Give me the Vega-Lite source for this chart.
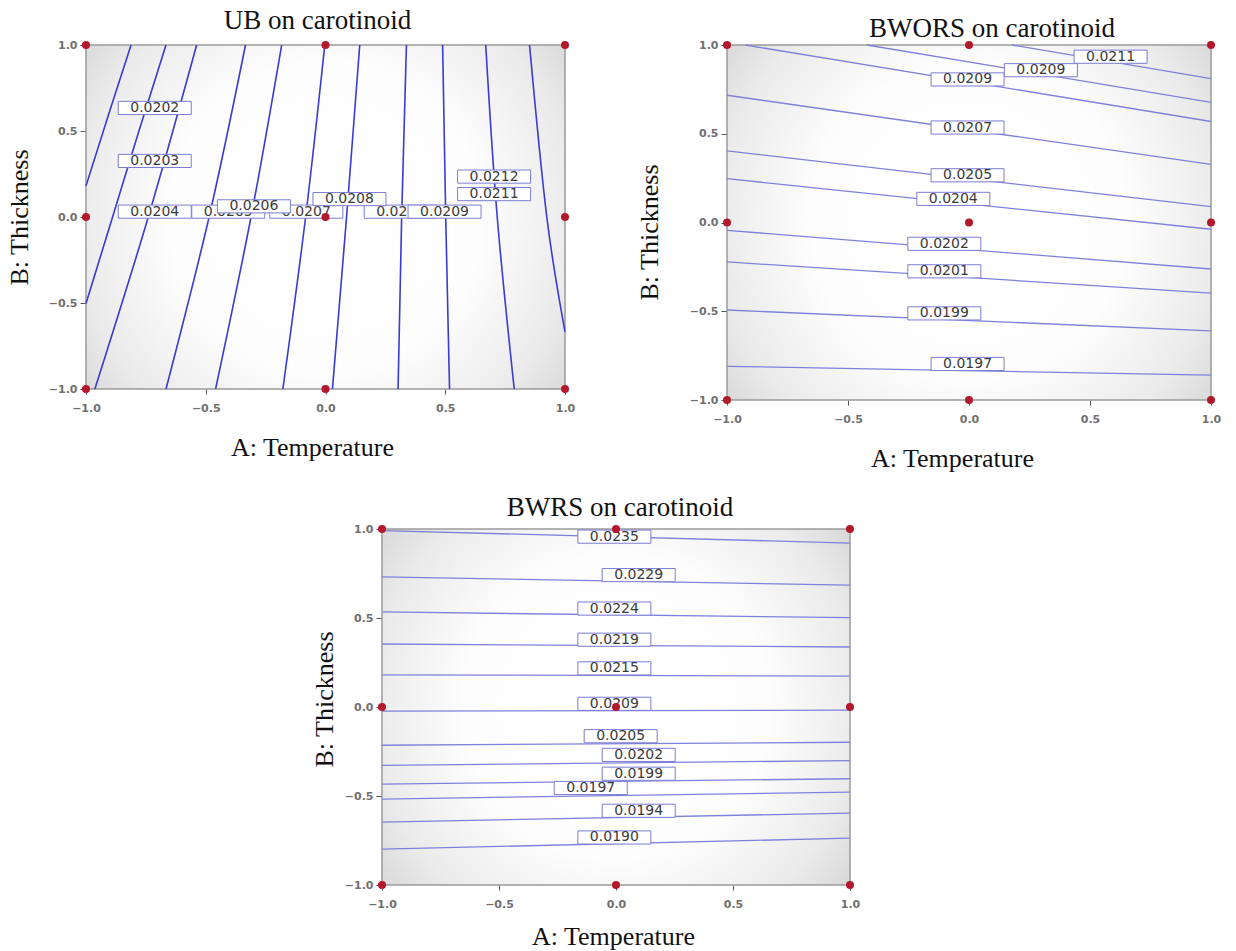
{
  "$schema": "https://vega.github.io/schema/vega-lite/v6.json",
  "background": "#ffffff",
  "padding": {"left": 6, "top": 7, "right": 5, "bottom": 2},
  "config": {
    "view": {"stroke": null},
    "title": {"font": "Liberation Serif", "fontSize": 27, "fontWeight": "normal", "color": "#111111", "baseline": "alphabetic", "frame": "group", "anchor": "middle"},
    "axis": {"grid": false, "domain": false, "labelFont": "DejaVu Sans", "labelFontSize": 11, "labelFontWeight": "bold", "labelColor": "#707070", "labelFlush": false, "labelOverlap": false, "tickColor": "#555555", "tickWidth": 1, "titleFont": "Liberation Serif", "titleFontSize": 26, "titleFontWeight": "normal", "titleColor": "#111111", "titleBaseline": "alphabetic"},
    "axisX": {"tickSize": 5, "labelPadding": 8},
    "axisY": {"tickSize": 6, "labelPadding": 3}
  },
  "datasets": {
    "design": [
      {"x": -1, "y": 1}, {"x": 0, "y": 1}, {"x": 1, "y": 1},
      {"x": -1, "y": 0}, {"x": 0, "y": 0}, {"x": 1, "y": 0},
      {"x": -1, "y": -1}, {"x": 0, "y": -1}, {"x": 1, "y": -1}
    ],
    "ub_lines": [
      {"c": 1, "k": 0, "x": -0.812, "y": 1}, {"c": 1, "k": 1, "x": -0.9, "y": 0.62}, {"c": 1, "k": 2, "x": -1, "y": 0.181},
      {"c": 2, "k": 0, "x": -0.666, "y": 1}, {"c": 2, "k": 1, "x": -0.779, "y": 0.5}, {"c": 2, "k": 2, "x": -0.889, "y": 0}, {"c": 2, "k": 3, "x": -1, "y": -0.503},
      {"c": 3, "k": 0, "x": -0.538, "y": 1}, {"c": 3, "k": 1, "x": -0.74, "y": 0}, {"c": 3, "k": 2, "x": -0.963, "y": -1},
      {"c": 4, "k": 0, "x": -0.334, "y": 1}, {"c": 4, "k": 1, "x": -0.486, "y": 0}, {"c": 4, "k": 2, "x": -0.666, "y": -1},
      {"c": 5, "k": 0, "x": -0.183, "y": 1}, {"c": 5, "k": 1, "x": -0.311, "y": 0}, {"c": 5, "k": 2, "x": -0.459, "y": -1},
      {"c": 6, "k": 0, "x": -0.003, "y": 1}, {"c": 6, "k": 1, "x": -0.083, "y": 0}, {"c": 6, "k": 2, "x": -0.178, "y": -1},
      {"c": 7, "k": 0, "x": 0.143, "y": 1}, {"c": 7, "k": 1, "x": 0.088, "y": 0}, {"c": 7, "k": 2, "x": 0.029, "y": -1},
      {"c": 8, "k": 0, "x": 0.338, "y": 1}, {"c": 8, "k": 1, "x": 0.318, "y": 0}, {"c": 8, "k": 2, "x": 0.303, "y": -1},
      {"c": 9, "k": 0, "x": 0.489, "y": 1}, {"c": 9, "k": 1, "x": 0.502, "y": 0}, {"c": 9, "k": 2, "x": 0.518, "y": -1},
      {"c": 10, "k": 0, "x": 0.669, "y": 1}, {"c": 10, "k": 1, "x": 0.717, "y": 0}, {"c": 10, "k": 2, "x": 0.788, "y": -1},
      {"c": 11, "k": 0, "x": 0.852, "y": 1}, {"c": 11, "k": 1, "x": 0.924, "y": 0}, {"c": 11, "k": 2, "x": 1, "y": -0.667}
    ],
    "ub_back": [
      {"t": "0.0205", "x": -0.406, "y": 0.031},
      {"t": "0.0207", "x": -0.08, "y": 0.031},
      {"t": "0.0210", "x": 0.314, "y": 0.031}
    ],
    "ub_front": [
      {"t": "0.0202", "x": -0.713, "y": 0.634},
      {"t": "0.0203", "x": -0.713, "y": 0.326},
      {"t": "0.0204", "x": -0.713, "y": 0.031},
      {"t": "0.0206", "x": -0.299, "y": 0.062},
      {"t": "0.0208", "x": 0.1, "y": 0.104},
      {"t": "0.0209", "x": 0.497, "y": 0.031},
      {"t": "0.0212", "x": 0.704, "y": 0.235},
      {"t": "0.0211", "x": 0.704, "y": 0.133}
    ],
    "bwors_lines": [
      {"c": 1, "k": 0, "x": 0.177, "y": 1}, {"c": 1, "k": 1, "x": 1, "y": 0.81},
      {"c": 2, "k": 0, "x": -0.422, "y": 1}, {"c": 2, "k": 1, "x": 1, "y": 0.677},
      {"c": 3, "k": 0, "x": -0.925, "y": 1}, {"c": 3, "k": 1, "x": 1, "y": 0.569},
      {"c": 4, "k": 0, "x": -1, "y": 0.717}, {"c": 4, "k": 1, "x": 1, "y": 0.328},
      {"c": 5, "k": 0, "x": -1, "y": 0.404}, {"c": 5, "k": 1, "x": 1, "y": 0.089},
      {"c": 6, "k": 0, "x": -1, "y": 0.247}, {"c": 6, "k": 1, "x": 1, "y": -0.038},
      {"c": 7, "k": 0, "x": -1, "y": -0.044}, {"c": 7, "k": 1, "x": 1, "y": -0.262},
      {"c": 8, "k": 0, "x": -1, "y": -0.222}, {"c": 8, "k": 1, "x": 1, "y": -0.398},
      {"c": 9, "k": 0, "x": -1, "y": -0.493}, {"c": 9, "k": 1, "x": 1, "y": -0.611},
      {"c": 10, "k": 0, "x": -1, "y": -0.81}, {"c": 10, "k": 1, "x": 1, "y": -0.86}
    ],
    "bwors_back": [
      {"t": "0.0209", "x": -0.006, "y": 0.806}
    ],
    "bwors_front": [
      {"t": "0.0211", "x": 0.585, "y": 0.934},
      {"t": "0.0209", "x": 0.297, "y": 0.858},
      {"t": "0.0207", "x": -0.006, "y": 0.535},
      {"t": "0.0205", "x": -0.006, "y": 0.266},
      {"t": "0.0204", "x": -0.065, "y": 0.133},
      {"t": "0.0202", "x": -0.102, "y": -0.12},
      {"t": "0.0201", "x": -0.102, "y": -0.275},
      {"t": "0.0199", "x": -0.102, "y": -0.512},
      {"t": "0.0197", "x": -0.006, "y": -0.797}
    ],
    "bwrs_lines": [
      {"c": 1, "k": 0, "x": -1, "y": 0.991}, {"c": 1, "k": 1, "x": 1, "y": 0.921},
      {"c": 2, "k": 0, "x": -1, "y": 0.731}, {"c": 2, "k": 1, "x": 1, "y": 0.685},
      {"c": 3, "k": 0, "x": -1, "y": 0.534}, {"c": 3, "k": 1, "x": 1, "y": 0.502},
      {"c": 4, "k": 0, "x": -1, "y": 0.354}, {"c": 4, "k": 1, "x": 1, "y": 0.337},
      {"c": 5, "k": 0, "x": -1, "y": 0.181}, {"c": 5, "k": 1, "x": 1, "y": 0.174},
      {"c": 6, "k": 0, "x": -1, "y": -0.023}, {"c": 6, "k": 1, "x": 1, "y": -0.018},
      {"c": 7, "k": 0, "x": -1, "y": -0.215}, {"c": 7, "k": 1, "x": 1, "y": -0.198},
      {"c": 8, "k": 0, "x": -1, "y": -0.328}, {"c": 8, "k": 1, "x": 1, "y": -0.301},
      {"c": 9, "k": 0, "x": -1, "y": -0.433}, {"c": 9, "k": 1, "x": 1, "y": -0.403},
      {"c": 10, "k": 0, "x": -1, "y": -0.517}, {"c": 10, "k": 1, "x": 1, "y": -0.478},
      {"c": 11, "k": 0, "x": -1, "y": -0.647}, {"c": 11, "k": 1, "x": 1, "y": -0.596},
      {"c": 12, "k": 0, "x": -1, "y": -0.799}, {"c": 12, "k": 1, "x": 1, "y": -0.737}
    ],
    "bwrs_labels": [
      {"t": "0.0235", "x": -0.007, "y": 0.957},
      {"t": "0.0229", "x": 0.097, "y": 0.741},
      {"t": "0.0224", "x": -0.007, "y": 0.553},
      {"t": "0.0219", "x": -0.007, "y": 0.378},
      {"t": "0.0215", "x": -0.007, "y": 0.217},
      {"t": "0.0209", "x": -0.007, "y": 0.018},
      {"t": "0.0205", "x": 0.02, "y": -0.164},
      {"t": "0.0202", "x": 0.097, "y": -0.269},
      {"t": "0.0199", "x": 0.097, "y": -0.375},
      {"t": "0.0197", "x": -0.108, "y": -0.455},
      {"t": "0.0194", "x": 0.097, "y": -0.583},
      {"t": "0.0190", "x": -0.007, "y": -0.733}
    ]
  },
  "spacing": 23,
  "vconcat": [
    {
      "spacing": 61,
      "hconcat": [
        {
          "width": 479, "height": 344,
          "title": {"text": "UB on carotinoid", "dx": -8, "offset": 4},
          "layer": [
            {"data": {"values": [{}]}, "mark": {"type": "rect", "stroke": "#9a9a9a", "strokeWidth": 1.5, "fill": {"gradient": "radial", "x1": 0.5, "y1": 0.5, "r1": 0, "x2": 0.5, "y2": 0.5, "r2": 0.72, "stops": [{"offset": 0, "color": "#ffffff"}, {"offset": 0.45, "color": "#fdfdfd"}, {"offset": 0.72, "color": "#ebebeb"}, {"offset": 1, "color": "#c8c8c8"}]}},
             "encoding": {"x": {"datum": -1, "type": "quantitative", "scale": {"domain": [-1, 1], "nice": false, "zero": false}}, "x2": {"datum": 1}, "y": {"datum": -1, "type": "quantitative", "scale": {"domain": [-1, 1], "nice": false, "zero": false}}, "y2": {"datum": 1}}},
            {"data": {"name": "ub_lines"}, "mark": {"type": "line", "interpolate": "natural", "color": "#3a3ad4", "strokeWidth": 1.6},
             "encoding": {"x": {"field": "x", "type": "quantitative"}, "y": {"field": "y", "type": "quantitative"}, "detail": {"field": "c", "type": "nominal"}, "order": {"field": "k", "type": "quantitative"}}},
            {"data": {"name": "ub_back"}, "mark": {"type": "point", "shape": "M-1,-0.18H1V0.18H-1Z", "size": 5329, "filled": true, "fill": "#ffffff", "stroke": "#7c7cd4", "strokeWidth": 1, "opacity": 1},
             "encoding": {"x": {"field": "x", "type": "quantitative"}, "y": {"field": "y", "type": "quantitative"}}},
            {"data": {"name": "ub_back"}, "mark": {"type": "text", "font": "DejaVu Sans", "fontSize": 14, "color": "#3a3a3a", "align": "center", "baseline": "middle"},
             "encoding": {"x": {"field": "x", "type": "quantitative"}, "y": {"field": "y", "type": "quantitative"}, "text": {"field": "t", "type": "nominal"}}},
            {"data": {"name": "ub_front"}, "mark": {"type": "point", "shape": "M-1,-0.18H1V0.18H-1Z", "size": 5329, "filled": true, "fill": "#ffffff", "stroke": "#7c7cd4", "strokeWidth": 1, "opacity": 1},
             "encoding": {"x": {"field": "x", "type": "quantitative"}, "y": {"field": "y", "type": "quantitative"}}},
            {"data": {"name": "ub_front"}, "mark": {"type": "text", "font": "DejaVu Sans", "fontSize": 14, "color": "#3a3a3a", "align": "center", "baseline": "middle"},
             "encoding": {"x": {"field": "x", "type": "quantitative"}, "y": {"field": "y", "type": "quantitative"}, "text": {"field": "t", "type": "nominal"}}},
            {"data": {"name": "design"}, "mark": {"type": "circle", "size": 64, "color": "#b4182c", "opacity": 1},
             "encoding": {
               "x": {"field": "x", "type": "quantitative", "axis": {"title": "A: Temperature", "values": [-1, -0.5, 0, 0.5, 1], "format": ".1f", "titleX": 226, "titleY": 66}},
               "y": {"field": "y", "type": "quantitative", "axis": {"title": "B: Thickness", "values": [-1, -0.5, 0, 0.5, 1], "format": ".1f", "titleX": -59, "titleY": 172}}
             }}
          ]
        },
        {
          "width": 484, "height": 355,
          "title": {"text": "BWORS on carotinoid", "dx": 23, "offset": -4},
          "layer": [
            {"data": {"values": [{}]}, "mark": {"type": "rect", "stroke": "#9a9a9a", "strokeWidth": 1.5, "fill": {"gradient": "radial", "x1": 0.5, "y1": 0.5, "r1": 0, "x2": 0.5, "y2": 0.5, "r2": 0.72, "stops": [{"offset": 0, "color": "#ffffff"}, {"offset": 0.45, "color": "#fdfdfd"}, {"offset": 0.72, "color": "#ebebeb"}, {"offset": 1, "color": "#c8c8c8"}]}},
             "encoding": {"x": {"datum": -1, "type": "quantitative", "scale": {"domain": [-1, 1], "nice": false, "zero": false}}, "x2": {"datum": 1}, "y": {"datum": -1, "type": "quantitative", "scale": {"domain": [-1, 1], "nice": false, "zero": false}}, "y2": {"datum": 1}}},
            {"data": {"name": "bwors_lines"}, "mark": {"type": "line", "color": "#8080dc", "strokeWidth": 1.3},
             "encoding": {"x": {"field": "x", "type": "quantitative"}, "y": {"field": "y", "type": "quantitative"}, "detail": {"field": "c", "type": "nominal"}, "order": {"field": "k", "type": "quantitative"}}},
            {"data": {"name": "bwors_back"}, "mark": {"type": "point", "shape": "M-1,-0.18H1V0.18H-1Z", "size": 5329, "filled": true, "fill": "#ffffff", "stroke": "#7c7cd4", "strokeWidth": 1, "opacity": 1},
             "encoding": {"x": {"field": "x", "type": "quantitative"}, "y": {"field": "y", "type": "quantitative"}}},
            {"data": {"name": "bwors_back"}, "mark": {"type": "text", "font": "DejaVu Sans", "fontSize": 14, "color": "#3a3a3a", "align": "center", "baseline": "middle"},
             "encoding": {"x": {"field": "x", "type": "quantitative"}, "y": {"field": "y", "type": "quantitative"}, "text": {"field": "t", "type": "nominal"}}},
            {"data": {"name": "bwors_front"}, "mark": {"type": "point", "shape": "M-1,-0.18H1V0.18H-1Z", "size": 5329, "filled": true, "fill": "#ffffff", "stroke": "#7c7cd4", "strokeWidth": 1, "opacity": 1},
             "encoding": {"x": {"field": "x", "type": "quantitative"}, "y": {"field": "y", "type": "quantitative"}}},
            {"data": {"name": "bwors_front"}, "mark": {"type": "text", "font": "DejaVu Sans", "fontSize": 14, "color": "#3a3a3a", "align": "center", "baseline": "middle"},
             "encoding": {"x": {"field": "x", "type": "quantitative"}, "y": {"field": "y", "type": "quantitative"}, "text": {"field": "t", "type": "nominal"}}},
            {"data": {"name": "design"}, "mark": {"type": "circle", "size": 64, "color": "#b4182c", "opacity": 1},
             "encoding": {
               "x": {"field": "x", "type": "quantitative", "axis": {"title": "A: Temperature", "values": [-1, -0.5, 0, 0.5, 1], "format": ".1f", "titleX": 225, "titleY": 66}},
               "y": {"field": "y", "type": "quantitative", "axis": {"title": "B:  Thickness", "values": [-1, -0.5, 0, 0.5, 1], "format": ".1f", "titleX": -70, "titleY": 187}}
             }}
          ]
        }
      ]
    },
    {
      "spacing": 0,
      "hconcat": [
        {"width": 225, "height": 10, "data": {"values": [{}]}, "mark": {"type": "point", "opacity": 0}, "encoding": {}},
        {
          "width": 468, "height": 356,
          "title": {"text": "BWRS on carotinoid", "dx": 4, "offset": 1},
          "layer": [
            {"data": {"values": [{}]}, "mark": {"type": "rect", "stroke": "#9a9a9a", "strokeWidth": 1.5, "fill": {"gradient": "radial", "x1": 0.5, "y1": 0.5, "r1": 0, "x2": 0.5, "y2": 0.5, "r2": 0.72, "stops": [{"offset": 0, "color": "#ffffff"}, {"offset": 0.45, "color": "#fdfdfd"}, {"offset": 0.72, "color": "#ebebeb"}, {"offset": 1, "color": "#c8c8c8"}]}},
             "encoding": {"x": {"datum": -1, "type": "quantitative", "scale": {"domain": [-1, 1], "nice": false, "zero": false}}, "x2": {"datum": 1}, "y": {"datum": -1, "type": "quantitative", "scale": {"domain": [-1, 1], "nice": false, "zero": false}}, "y2": {"datum": 1}}},
            {"data": {"name": "bwrs_lines"}, "mark": {"type": "line", "color": "#8080dc", "strokeWidth": 1.3},
             "encoding": {"x": {"field": "x", "type": "quantitative"}, "y": {"field": "y", "type": "quantitative"}, "detail": {"field": "c", "type": "nominal"}, "order": {"field": "k", "type": "quantitative"}}},
            {"data": {"name": "bwrs_labels"}, "mark": {"type": "point", "shape": "M-1,-0.18H1V0.18H-1Z", "size": 5329, "filled": true, "fill": "#ffffff", "stroke": "#7c7cd4", "strokeWidth": 1, "opacity": 1},
             "encoding": {"x": {"field": "x", "type": "quantitative"}, "y": {"field": "y", "type": "quantitative"}}},
            {"data": {"name": "bwrs_labels"}, "mark": {"type": "text", "font": "DejaVu Sans", "fontSize": 14, "color": "#3a3a3a", "align": "center", "baseline": "middle"},
             "encoding": {"x": {"field": "x", "type": "quantitative"}, "y": {"field": "y", "type": "quantitative"}, "text": {"field": "t", "type": "nominal"}}},
            {"data": {"name": "design"}, "mark": {"type": "circle", "size": 64, "color": "#b4182c", "opacity": 1},
             "encoding": {
               "x": {"field": "x", "type": "quantitative", "axis": {"title": "A: Temperature", "values": [-1, -0.5, 0, 0.5, 1], "format": ".1f", "titleX": 231, "titleY": 59}},
               "y": {"field": "y", "type": "quantitative", "axis": {"title": "B:  Thickness", "values": [-1, -0.5, 0, 0.5, 1], "format": ".1f", "titleX": -50, "titleY": 170}}
             }}
          ]
        }
      ]
    }
  ]
}
